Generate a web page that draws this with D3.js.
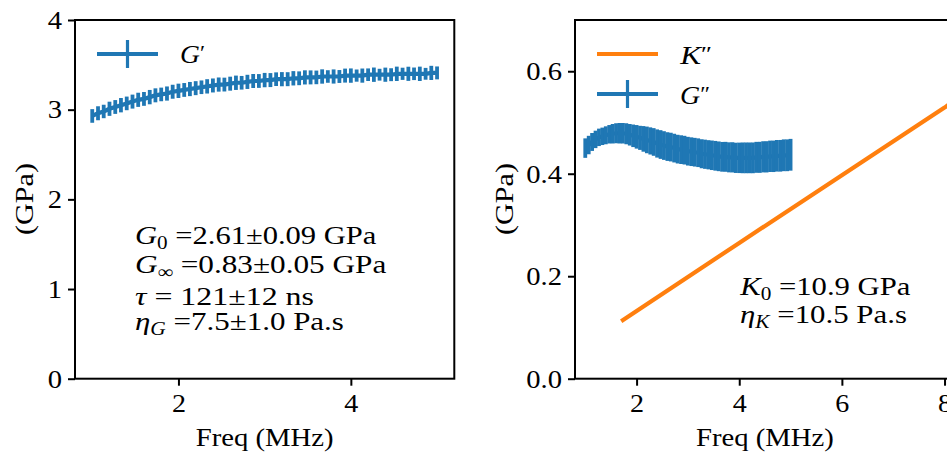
<!DOCTYPE html>
<html><head><meta charset="utf-8">
<script src="https://cdn.jsdelivr.net/npm/d3@7"></script>
<style>
html,body{margin:0;padding:0;background:#fff;overflow:hidden;}
svg text{fill:#000;}
</style></head><body>
<svg id="chart" width="947" height="453"></svg>
<script>
// ---------------- data ----------------
const freq = [
1.000,1.067,1.133,1.200,1.267,1.333,1.400,1.467,1.533,1.600,
1.667,1.733,1.800,1.867,1.933,2.000,2.067,2.133,2.200,2.267,
2.333,2.400,2.467,2.533,2.600,2.667,2.733,2.800,2.867,2.933,
3.000,3.067,3.133,3.200,3.267,3.333,3.400,3.467,3.533,3.600,
3.667,3.733,3.800,3.867,3.933,4.000,4.067,4.133,4.200,4.267,
4.333,4.400,4.467,4.533,4.600,4.667,4.733,4.800,4.867,4.933,
5.000];
const gPrime = [
2.93,2.96,2.98,3.01,3.03,3.05,3.07,3.09,3.11,3.12,
3.14,3.16,3.17,3.18,3.20,3.21,3.22,3.23,3.24,3.25,
3.26,3.27,3.28,3.28,3.29,3.30,3.30,3.31,3.32,3.32,
3.33,3.33,3.34,3.34,3.34,3.35,3.35,3.36,3.36,3.36,
3.37,3.37,3.37,3.37,3.38,3.38,3.38,3.38,3.39,3.39,
3.39,3.39,3.39,3.40,3.40,3.40,3.40,3.40,3.40,3.41,
3.41];
const gPrimeErr = [
0.076,0.078,0.075,0.079,0.077,0.080,0.076,0.078,0.079,0.077,
0.080,0.078,0.076,0.079,0.078,0.080,0.077,0.079,0.078,0.076,
0.080,0.078,0.079,0.077,0.078,0.080,0.076,0.079,0.078,0.077,
0.080,0.078,0.076,0.079,0.078,0.080,0.077,0.079,0.078,0.076,
0.080,0.070,0.079,0.072,0.078,0.080,0.068,0.079,0.070,0.080,
0.066,0.079,0.072,0.080,0.068,0.079,0.070,0.080,0.066,0.079,
0.072];
const gDouble = [
0.450,0.456,0.462,0.467,0.471,0.473,0.475,0.477,0.478,0.479,
0.479,0.479,0.478,0.476,0.474,0.472,0.470,0.468,0.466,0.464,
0.462,0.459,0.457,0.455,0.453,0.452,0.450,0.448,0.447,0.446,
0.444,0.443,0.442,0.441,0.439,0.438,0.437,0.436,0.435,0.434,
0.433,0.433,0.432,0.432,0.431,0.431,0.431,0.431,0.431,0.431,
0.432,0.432,0.433,0.433,0.434,0.434,0.435,0.435,0.436,0.436,
0.437];
const gDoubleErr = [
0.019,0.018,0.0175,0.017,0.017,0.017,0.0175,0.018,0.019,0.0195,
0.020,0.020,0.0205,0.021,0.022,0.023,0.0235,0.025,0.026,0.0265,
0.027,0.0275,0.028,0.028,0.028,0.028,0.028,0.028,0.028,0.028,
0.028,0.028,0.028,0.028,0.0283,0.0285,0.0285,0.0288,0.029,0.029,
0.029,0.0292,0.0293,0.0295,0.0295,0.0297,0.030,0.030,0.030,0.030,
0.0302,0.0303,0.0304,0.0305,0.0306,0.0307,0.0308,0.0309,0.031,0.031,
0.031];
const kFreq = [1.7, 4.0, 6.0, 8.0, 8.1];
const kDouble = [0.112, 0.265, 0.397, 0.529, 0.536];

const leftXTicks = [2, 4];
const leftYTicks = [0, 1, 2, 3, 4];
const rightXTicks = [2, 4, 6, 8];
const rightYTicks = [0.0, 0.2, 0.4, 0.6];

// ---------------- font pick ----------------
function pickFont() {
  const cands = ["Liberation Serif", "Tinos", "Times New Roman", "Nimbus Roman", "DejaVu Serif"];
  const c = document.createElement("canvas").getContext("2d");
  const s = "Freq (MHz) GPa 0123456789 mmmwwwiii";
  c.font = "40px monospace"; const wm = c.measureText(s).width;
  c.font = "40px sans-serif"; const ws = c.measureText(s).width;
  for (const f of cands) {
    c.font = `40px "${f}", monospace`; const a = c.measureText(s).width;
    c.font = `40px "${f}", sans-serif`; const b = c.measureText(s).width;
    if (a !== wm || b !== ws) return `"${f}", serif`;
  }
  return "serif";
}
const FONT = pickFont();

// ---------------- layout ----------------
const BLUE = "#1f77b4", ORANGE = "#ff7f0e";
const FS = 26;
const svg = d3.select("#chart").style("font-family", FONT);

const xL = d3.scaleLinear().domain([0.8, 5.2]).range([75, 454.3]);
const yL = d3.scaleLinear().domain([0, 4]).range([378.7, 20]);
const xR = d3.scaleLinear().domain([0.8, 8.2]).range([575, 954.8]);
const yR = d3.scaleLinear().domain([0, 0.7]).range([378.7, 20]);

function fitW(sel, w, anchor) {
  const bb = sel.node().getBBox();
  const s = w / bb.width;
  const ax = anchor === "middle" ? bb.x + bb.width / 2 : (anchor === "end" ? bb.x + bb.width : bb.x);
  sel.attr("transform", `translate(${ax},0) scale(${s},1) translate(${-ax},0)`);
}

function drawAxes(x, y, xt, yt, yfmt) {
  const [x0, x1] = x.range(), [y0, y1] = y.range();
  const gx = svg.append("g").attr("transform", `translate(0,${y0})`)
    .call(d3.axisBottom(x).tickValues(xt).tickSize(7).tickPadding(8).tickFormat(d3.format("d")));
  const gy = svg.append("g").attr("transform", `translate(${x0},0)`)
    .call(d3.axisLeft(y).tickValues(yt).tickSize(7).tickPadding(6).tickFormat(yfmt));
  [gx, gy].forEach(g => {
    g.attr("font-family", FONT).attr("font-size", FS);
    g.select(".domain").remove();
    g.selectAll(".tick line").attr("stroke", "#000").attr("stroke-width", 2);
    g.selectAll(".tick text").attr("fill", "#000");
  });
  gx.selectAll(".tick text").each(function () { fitW(d3.select(this), this.getBBox().width * 1.08, "middle"); });
  gy.selectAll(".tick text").each(function () { fitW(d3.select(this), this.getBBox().width * 1.1, "end"); });
  svg.append("rect").attr("x", x0).attr("y", y1).attr("width", x1 - x0).attr("height", y0 - y1)
    .attr("fill", "none").attr("stroke", "#000").attr("stroke-width", 2);
  const cx = (x0 + x1) / 2;
  const xl = svg.append("text").attr("x", cx).attr("y", 446.5).attr("text-anchor", "middle")
    .attr("font-size", FS).text("Freq (MHz)");
  fitW(xl, 138, "middle");
}

function errorSeries(x, y, xs, vs, es) {
  const g = svg.append("g");
  g.append("path")
    .attr("d", d3.line().x((d, i) => x(xs[i])).y((d, i) => y(vs[i]))(vs))
    .attr("fill", "none").attr("stroke", BLUE).attr("stroke-width", 4.2);
  g.selectAll("line.eb").data(vs).join("line").attr("class", "eb")
    .attr("x1", (d, i) => x(xs[i])).attr("x2", (d, i) => x(xs[i]))
    .attr("y1", (d, i) => y(d - es[i])).attr("y2", (d, i) => y(d + es[i]))
    .attr("stroke", BLUE).attr("stroke-width", 3.8);
}

// ----- left panel -----
errorSeries(xL, yL, freq, gPrime, gPrimeErr);
drawAxes(xL, yL, leftXTicks, leftYTicks, d3.format("d"));

// ----- right panel -----
svg.append("path")
  .attr("d", d3.line().x((d, i) => xR(kFreq[i])).y(d => yR(d))(kDouble))
  .attr("fill", "none").attr("stroke", ORANGE).attr("stroke-width", 4.2);
errorSeries(xR, yR, freq, gDouble, gDoubleErr);
drawAxes(xR, yR, rightXTicks, rightYTicks, d3.format(".1f"));

// y labels
[[33.3, 199], [513.3, 199]].forEach(([tx, ty]) => {
  const t = svg.append("text").attr("text-anchor", "middle").attr("font-size", FS).text("(GPa)");
  const w = t.node().getBBox().width;
  t.attr("transform", `translate(${tx},${ty}) rotate(-90) scale(${72 / w},1)`);
});

// ----- legends -----
function legendErr(x0, yc) {
  svg.append("line").attr("x1", x0).attr("x2", x0 + 61).attr("y1", yc).attr("y2", yc)
    .attr("stroke", BLUE).attr("stroke-width", 4.2);
  svg.append("line").attr("x1", x0 + 30.5).attr("x2", x0 + 30.5).attr("y1", yc - 14).attr("y2", yc + 14)
    .attr("stroke", BLUE).attr("stroke-width", 3.2);
}
legendErr(97, 54);
legendErr(597, 94);
svg.append("line").attr("x1", 597).attr("x2", 658).attr("y1", 54).attr("y2", 54)
  .attr("stroke", ORANGE).attr("stroke-width", 4.2);

function mathLabel(x, y, base, prime, w) {
  const t = svg.append("text").attr("x", x).attr("y", y).attr("font-size", FS);
  t.append("tspan").attr("font-style", "italic").text(base);
  t.append("tspan").attr("font-size", 22).attr("dy", -3).text(prime);
  fitW(t, w, "start");
}
mathLabel(180, 63, "G", "\u2032", 25);
mathLabel(680, 64, "K", "\u2033", 33);
mathLabel(680, 104, "G", "\u2033", 30);

// ----- annotations -----
function annot(x, y, parts, w) {
  const t = svg.append("text").attr("x", x).attr("y", y).attr("font-size", FS);
  parts.forEach(p => {
    const s = t.append("tspan").text(p.t);
    if (p.i) s.attr("font-style", "italic");
    if (p.sub) s.attr("font-size", 18).attr("dy", 5);
    if (p.up) s.attr("dy", -5);
  });
  fitW(t, w, "start");
}
annot(135, 244.5, [{t: "G", i: 1}, {t: "0", sub: 1}, {t: " =2.61\u00b10.09 GPa", up: 1}], 242);
annot(135, 273, [{t: "G", i: 1}, {t: "\u221e", sub: 1}, {t: " =0.83\u00b10.05 GPa", up: 1}], 252);
annot(135, 305, [{t: "\u03c4", i: 1}, {t: " = 121\u00b112 ns"}], 179);
annot(135, 330, [{t: "\u03b7", i: 1}, {t: "G", sub: 1, i: 1}, {t: " =7.5\u00b11.0 Pa.s", up: 1}], 209);
annot(740, 295, [{t: "K", i: 1}, {t: "0", sub: 1}, {t: " =10.9 GPa", up: 1}], 172);
annot(740, 323, [{t: "\u03b7", i: 1}, {t: "K", sub: 1, i: 1}, {t: " =10.5 Pa.s", up: 1}], 167);
</script>
</body></html>
